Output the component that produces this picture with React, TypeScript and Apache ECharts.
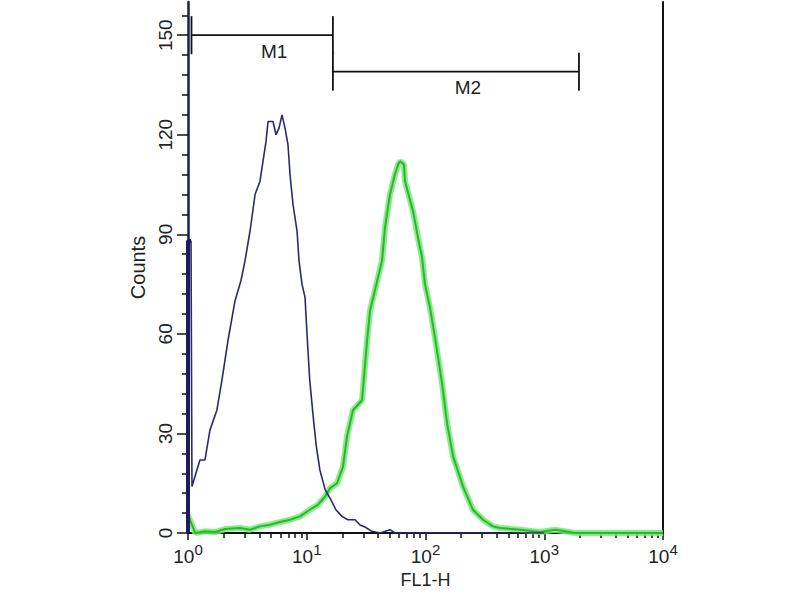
import React, { useEffect, useRef } from 'react';
import * as echarts from 'echarts';

// tick values
const xDecades = [1, 10, 100, 1000, 10000];
const yTicks = [0, 30, 60, 90, 120, 150];
const yMinorTicks = [6, 12, 18, 24, 36, 42, 48, 54, 66, 72, 78, 84, 96, 102, 108, 114, 126, 132, 138, 144, 156];

// isotype control (navy)
const isoFl1 = [
  1, 1, 1.06, 1.08, 1.26, 1.39, 1.53, 1.75, 1.93, 2.17, 2.49, 2.79, 3.02, 3.33, 3.67, 4.04, 4.28, 4.54,
  4.72, 5.2, 5.51, 5.84, 6.19, 6.56, 6.95, 7.23, 7.66, 8.28, 8.61, 9.12, 9.67, 10.05, 10.6, 11.3, 12.0,
  12.9, 14.3, 16.0, 17.6, 19.8, 22.2, 25.5, 28.1, 30.9, 35.4, 41.4, 50.2, 55.3, 1000,
];
const isoCounts = [
  0, 88, 88, 14, 22, 22, 31, 37, 46, 58, 70, 76, 82, 91, 102, 106, 112, 118,
  124, 124, 120, 122, 126, 122, 117, 108, 99, 91, 82, 75, 71, 60, 46, 35.5, 26.5,
  19, 13, 10, 7, 5, 4, 4, 2.4, 1.8, 0.5, 0, 1, 0, 0,
];

// stained sample (green)
const stainFl1 = [
  1, 1.15, 1.39, 1.69, 2.05, 2.74, 3.33, 4.04, 4.91, 5.95, 7.23, 8.78, 10.6, 12.4, 14.3, 15.7, 18.0,
  20.2, 21.8, 24.5, 29.2, 32.2, 34.1, 43.0, 45.6, 50.2, 55.3, 58.7, 61.0, 65.9, 67.2, 78.5, 86.5, 93.5,
  99.0, 109, 120, 138, 152, 171, 207, 251, 305, 370, 424, 625, 921, 1233, 1496, 1816, 10000,
];
const stainCounts = [
  5.4, 0, 0.5, 0.3, 1.2, 1.5, 1, 2, 2.5, 3.3, 4, 5, 7, 8.5, 11, 13.5, 15,
  20, 29, 37, 40, 58, 67, 82, 92, 102, 108, 111, 112, 111, 106, 97, 89, 83,
  75, 68, 59, 45, 33, 23, 14, 7, 4, 2, 1.5, 1, 0.3, 1, 0.5, 0, 0,
];

// marker gates
const gateNames = ['M1', 'M2'];
const gateFrom = [1.07, 16.6];
const gateTo = [16.6, 1960];
const gateLevel = [150, 139];

const minorX: number[] = [];
xDecades.slice(0, -1).forEach(d => {
  for (let k = 2; k <= 9; k++) minorX.push(d * k);
});

const FONT = '"Liberation Sans", Arial, sans-serif';

const App: React.FC = () => {
  const chartRef = useRef<HTMLDivElement>(null);

  useEffect(() => {
    document.body.style.margin = '0';
    if (!chartRef.current) return;
    const chart = echarts.init(chartRef.current, null, { renderer: 'svg' });

    const isoData = isoFl1.map((x, i) => [x, isoCounts[i]]);
    const stainData = stainFl1.map((x, i) => [x, stainCounts[i]]);
    const gateData = gateNames.map((n, i) => [gateFrom[i], gateTo[i], gateLevel[i], n]);

    const option = {
      animation: false,
      backgroundColor: '#fff',
      grid: { left: 188, right: 137, top: 2, bottom: 67 },
      xAxis: [
        {
          type: 'log',
          logBase: 10,
          min: 1,
          max: 10000,
          name: 'FL1-H',
          nameLocation: 'middle',
          nameGap: 38,
          nameTextStyle: { fontFamily: FONT, fontSize: 18, color: '#222' },
          axisLine: { onZero: false, lineStyle: { color: '#111', width: 2 } },
          axisTick: { customValues: xDecades, length: 7, lineStyle: { color: '#111', width: 1.5 } },
          splitLine: { show: false },
          axisLabel: {
            customValues: xDecades,
            margin: 9,
            formatter: (v: number) => `{b|10}{s|${Math.round(Math.log10(v))}}`,
            rich: {
              b: { fontFamily: FONT, fontSize: 19, color: '#222', lineHeight: 24, verticalAlign: 'bottom' },
              s: { fontFamily: FONT, fontSize: 15, color: '#222', lineHeight: 15, verticalAlign: 'top' },
            },
          },
        },
        {
          type: 'log',
          logBase: 10,
          min: 1,
          max: 10000,
          position: 'bottom',
          axisLine: { show: false },
          axisTick: { customValues: minorX, length: 5, lineStyle: { color: '#111', width: 1.5 } },
          axisLabel: { show: false },
          splitLine: { show: false },
        },
      ],
      yAxis: [
        {
          type: 'value',
          min: 0,
          max: 160,
          name: 'Counts',
          nameLocation: 'middle',
          nameRotate: 90,
          nameGap: 30,
          nameTextStyle: { fontFamily: FONT, fontSize: 20, color: '#222' },
          axisLine: { show: true, onZero: false, lineStyle: { color: '#1c1c4a', width: 2.5 } },
          axisTick: { customValues: yTicks, length: 11, lineStyle: { color: '#111', width: 1.5 } },
          splitLine: { show: false },
          axisLabel: {
            customValues: yTicks,
            rotate: 90,
            margin: 13,
            fontFamily: FONT,
            fontSize: 19,
            color: '#222',
          },
        },
        {
          type: 'value',
          min: 0,
          max: 160,
          position: 'left',
          axisLine: { show: false, onZero: false },
          axisTick: { customValues: yMinorTicks, length: 6, lineStyle: { color: '#111', width: 1.5 } },
          axisLabel: { show: false },
          splitLine: { show: false },
        },
        {
          type: 'value',
          min: 0,
          max: 160,
          position: 'right',
          axisLine: { show: true, onZero: false, lineStyle: { color: '#111', width: 2 } },
          axisTick: { show: false },
          axisLabel: { show: false },
          splitLine: { show: false },
        },
      ],
      series: [
        {
          name: 'stain-halo',
          type: 'line',
          data: stainData,
          showSymbol: false,
          lineStyle: { color: '#66f266', width: 6, opacity: 0.85 },
          z: 2,
        },
        {
          name: 'stain',
          type: 'line',
          data: stainData,
          showSymbol: false,
          lineStyle: { color: '#3fa83f', width: 2 },
          z: 3,
        },
        {
          name: 'isotype',
          type: 'line',
          data: isoData,
          showSymbol: false,
          lineStyle: { color: '#2a2a6e', width: 1.6 },
          z: 4,
        },
        {
          name: 'isotype-bin',
          type: 'line',
          data: isoData.slice(0, 3),
          showSymbol: false,
          lineStyle: { color: '#1c1c5a', width: 4 },
          z: 4,
        },
        {
          name: 'gates',
          type: 'custom',
          data: gateData,
          z: 5,
          renderItem: (params: any, api: any) => {
            const a = api.coord([api.value(0), api.value(2)]);
            const b = api.coord([api.value(1), api.value(2)]);
            const h = 19;
            const line = { stroke: '#111', lineWidth: 1.8 };
            return {
              type: 'group',
              children: [
                { type: 'line', shape: { x1: a[0], y1: a[1], x2: b[0], y2: b[1] }, style: line },
                { type: 'line', shape: { x1: a[0], y1: a[1] - h, x2: a[0], y2: a[1] + h }, style: line },
                { type: 'line', shape: { x1: b[0], y1: b[1] - h, x2: b[0], y2: b[1] + h }, style: line },
                {
                  type: 'text',
                  style: {
                    text: gateNames[params.dataIndex],
                    x: (a[0] + b[0]) / 2 + 12,
                    y: a[1] + 16,
                    align: 'center',
                    verticalAlign: 'middle',
                    font: `19px ${FONT}`,
                    fill: '#222',
                  },
                },
              ],
            };
          },
        },
      ],
    };

    chart.setOption(option);
    return () => chart.dispose();
  }, []);

  return <div ref={chartRef} style={{ width: 800, height: 600 }} />;
};

export default App;
